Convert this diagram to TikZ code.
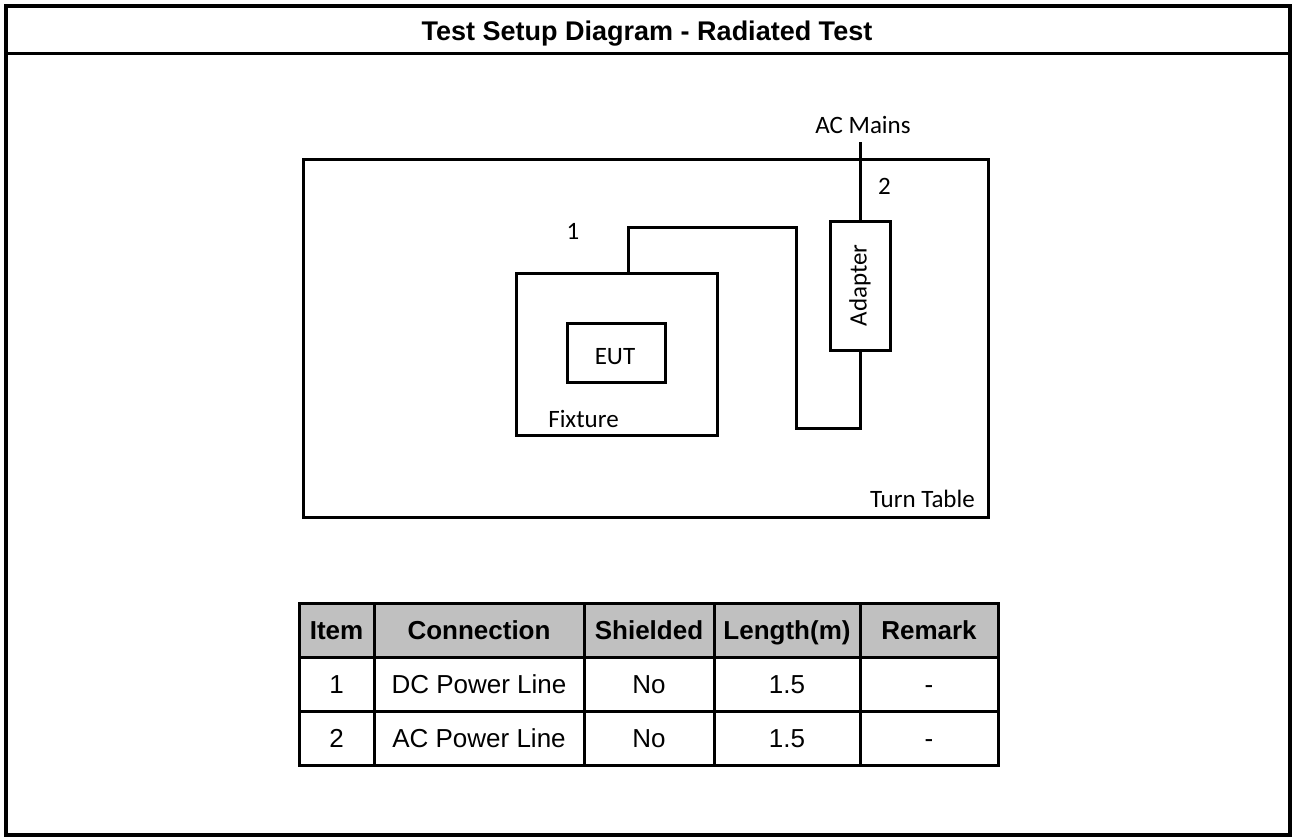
\documentclass[tikz,border=0pt]{standalone}
\usepackage{fontspec}
\setmainfont{Liberation Sans}
\newfontfamily\sketchfont{Carlito}
\usetikzlibrary{positioning}
\definecolor{headgray}{RGB}{192,192,192}

\begin{document}
\begin{tikzpicture}
    [ x = 1pt, y = -1pt
    , frame/.style =
      { line width = 4pt }
    , rule/.style =
      { line width = 3pt }
    , box/.style =
      { draw, line width = 3pt, inner sep = 0pt }
    , cable/.style =
      { line width = 3pt }
    , lbl/.style =
      { font = \sketchfont\fontsize{25}{25}\selectfont, inner sep = 0pt }
    , headcell/.style =
      { font = \bfseries\fontsize{26}{26}\selectfont, inner sep = 0pt, anchor = base }
    , cell/.style =
      { font = \fontsize{26}{26}\selectfont, inner sep = 0pt, anchor = base }
    ]
    \useasboundingbox (0,0) rectangle (1292,837);

    % sheet and title
    \draw [frame] (6,6) rectangle (1290,835);
    \draw [rule] (6,54) -- (1290,54);
    \node [headcell, font = \bfseries\fontsize{27}{27}\selectfont] (title) at (647,41)
      {Test Setup Diagram - Radiated Test};

    % set-up sketch
    \node [box, minimum width = 685, minimum height = 357] (table) at (645.5,338.5) {};
    \node [box, minimum width = 201, minimum height = 162] (fixture) at (616.5,354) {};
    \node [box, minimum width = 98, minimum height = 59] (eut) at (616,352.5) {};
    \node [box, minimum width = 60, minimum height = 129] (adapter) at (860,285.5) {};

    \node [lbl, anchor = base] (eutname) at (615,364) {EUT};
    \node [lbl, anchor = base] (fixname) at (583.5,427) {Fixture};
    \node [lbl, rotate = 90] (adaptname) at (adapter.center) {Adapter};
    \node [lbl, anchor = base east] (tablename) at (975,507) {Turn Table};
    \node [lbl, anchor = base] (mains) at (863,134) {AC Mains};
    \node [lbl, anchor = base] (one) at (573,239) {1};
    \node [lbl, anchor = base] (two) at (884.5,194) {2};

    \coordinate (mainsend) at (857,142);
    \coordinate (dcup) at (628,227);
    \coordinate (dcturn) at (796,227);
    \coordinate (dclow) at (796,428);

    \draw [cable] (adapter.north) -- (adapter.north |- mainsend);
    \draw [cable] (fixture.north -| dcup) -- (dcup) -- (dcturn) -- (dclow)
      -- (dclow -| adapter.south) -- (adapter.south);

    % cable list
    \fill [headgray] (299,603) rectangle (998,657);
    \foreach \y in {657,711}
      \draw [rule] (299,\y) -- (998,\y);
    \foreach \x in {374,584,714,860}
      \draw [rule] (\x,603) -- (\x,765);
    \draw [rule] (299,603) rectangle (998,765);

    \foreach \x/\t [count=\i] in
      {336.5/Item, 479/Connection, 649/Shielded, 787/Length(m), 929/Remark}
      \node [headcell] (hd-\i) at (\x,639) {\t};
    \foreach \x/\t [count=\i] in
      {336.5/1, 479/DC Power Line, 649/No, 787/1.5, 929/-}
      \node [cell] (ra-\i) at (\x,693) {\t};
    \foreach \x/\t [count=\i] in
      {336.5/2, 479/AC Power Line, 649/No, 787/1.5, 929/-}
      \node [cell] (rb-\i) at (\x,747) {\t};
\end{tikzpicture}
\end{document}
